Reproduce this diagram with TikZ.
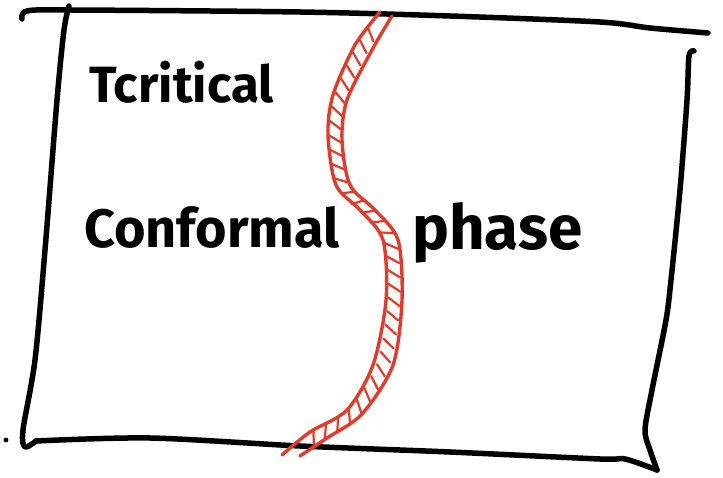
\documentclass[tikz,border=0pt]{standalone}
\usepackage{fontspec}
\setmainfont{Fira Sans}
\usepackage{tikz}
\usetikzlibrary{decorations.markings}
\definecolor{cInk}{HTML}{000000}
\definecolor{cRed}{HTML}{E63A29}
\tikzset{
  frame/.style={draw=cInk,line width=5.5pt,line cap=round,line join=round},
  band/.style={draw=cRed,line width=3.4pt,line cap=round,line join=round},
  hatch/.style={draw=cRed,line width=2.2pt,line cap=round},
  hand/.style={font=\fontsize{#1}{#1}\selectfont\bfseries,text=cInk,inner sep=0pt,anchor=base west},
}

\begin{document}
\begin{tikzpicture}[x=1pt,y=-1pt]
  \useasboundingbox (0,0) rectangle (723,478);
  % hand drawn frame
  \draw[frame] plot[smooth] coordinates {(22,19) (27,11) (70,10) (300,12) (450,16) (600,22) (650,28) (708,33)};
  \draw[frame] plot[smooth] coordinates {(69,6) (64,30) (57,100) (45,250) (35,360) (23,430) (25,447) (36,441)};
  \draw[frame] plot[smooth] coordinates {(36,441) (150,438) (300,446) (450,452) (600,459) (625,459) (657,470)};
  \draw[frame] plot[smooth] coordinates {(694,51) (689,56) (687,100) (680,190) (671,280) (666,320) (652,390) (645,430) (650,450) (657,470)};
  \fill[cInk] (6,440) coordinate (dot) circle (2.4pt);
  % red boundary band
  \draw[band] plot[smooth] coordinates {(380,12) (355,45) (333,95) (328,135) (336,185) (360,210) (383,240) (386,300) (373,365) (347,410) (310,432) (282,455)};
  \draw[band] plot[smooth] coordinates {(392,16) (372,50) (347,100) (342,140) (350,185) (375,210) (398,240) (402,300) (393,365) (362,414) (327,438) (300,456)};
  \path[decorate,decoration={markings,
      mark=between positions 0.05 and 0.97 step 14pt with {\draw[hatch] (-4pt,-6pt) -- (4pt,6pt);}}]
    plot[smooth] coordinates {(386,14) (363,47) (340,97) (335,137) (343,185) (367,210) (390,240) (394,300) (383,365) (354,412) (318,435) (291,455)};
  % labels
  \node[hand=51] (tc) at (89,103) {Tcritical};
  \node[hand=54] (conf) at (84,248) {Conformal};
  \node[hand=62] (ph) at (412,250) {phase};
\end{tikzpicture}
\end{document}
